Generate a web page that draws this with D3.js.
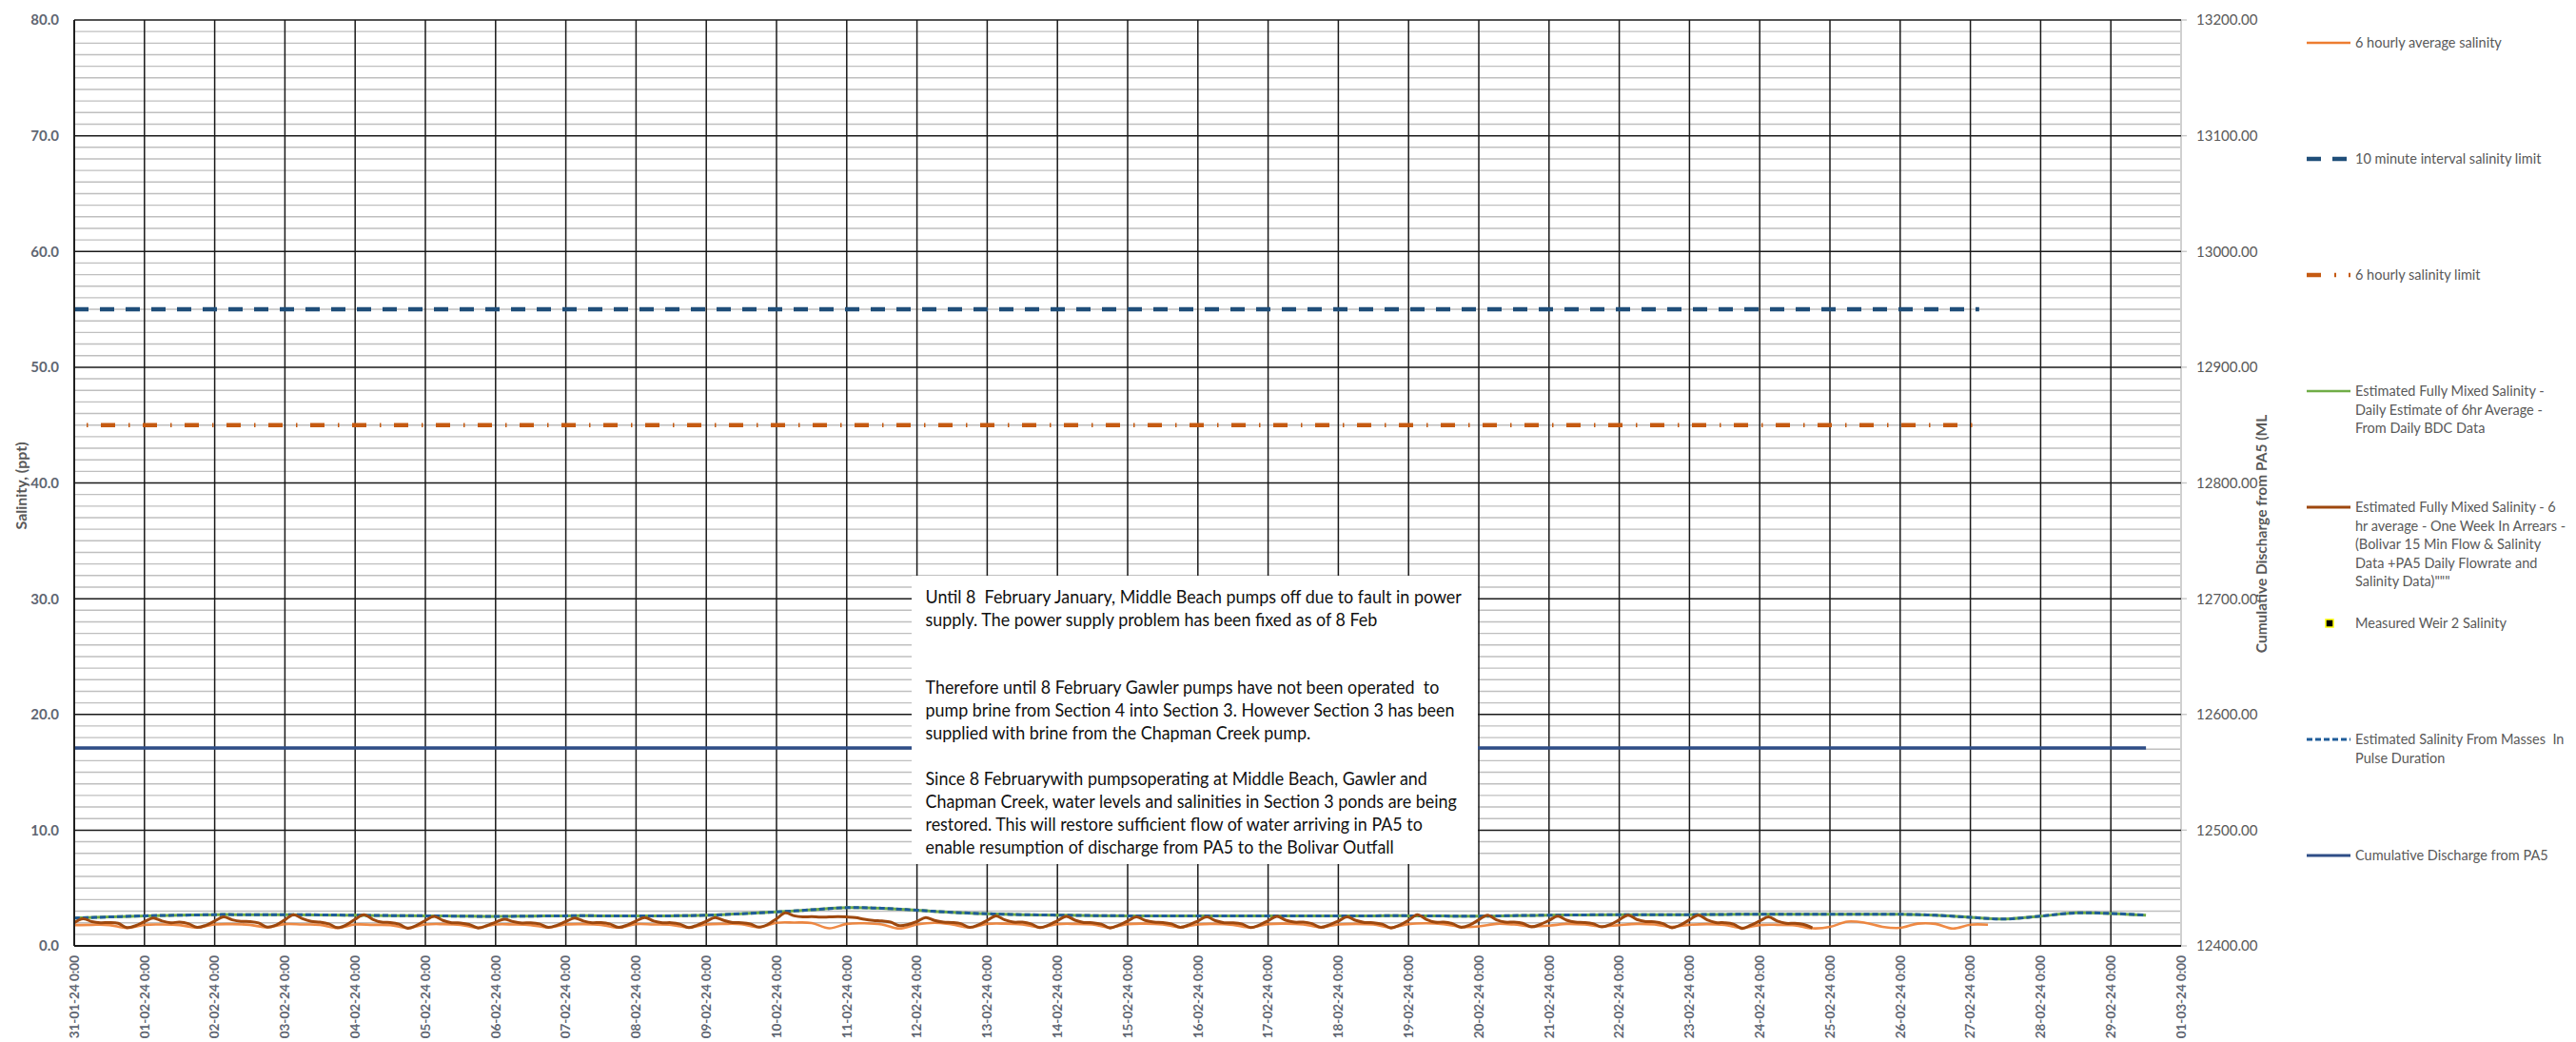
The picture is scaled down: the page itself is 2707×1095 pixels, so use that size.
<!DOCTYPE html>
<html>
<head>
<meta charset="utf-8">
<script src="https://cdn.jsdelivr.net/npm/d3@7"></script>
<style>
  html, body { margin: 0; padding: 0; background: #ffffff; }
  svg { display: block; }
</style>
</head>
<body>
<svg id="chart" width="2707" height="1095"></svg>
<script>
// ---------------------------------------------------------------------------
// Data
// ---------------------------------------------------------------------------
const periodStart = "2024-01-31T00:00Z";
const periodEnd = "2024-03-01T00:00Z";

// Left axis (salinity, ppt) and right axis (cumulative discharge, ML)
const salinityTicks = [0, 10, 20, 30, 40, 50, 60, 70, 80];
const dischargeTicks = [12400, 12500, 12600, 12700, 12800, 12900, 13000, 13100, 13200];

// Salinity limits
const limitDates = ["2024-01-31T00:00Z", "2024-02-27T03:00Z"];
const tenMinuteLimit = [55, 55];
const sixHourLimit = [45, 45];

// Cumulative discharge from PA5 (ML)
const dischargeDates = ["2024-01-31T00:00Z", "2024-02-29T12:00Z"];
const cumulativeDischarge = [12571, 12571];

// 6 hourly average salinity, every 6 h from 31-01 00:00 (one row per day)
const sixHourlyAvgSalinity = [
  1.80, 1.82, 1.80, 1.55,
  1.82, 1.85, 1.80, 1.58,
  1.85, 1.88, 1.82, 1.60,
  1.88, 1.85, 1.82, 1.55,
  1.85, 1.82, 1.80, 1.55,
  1.85, 1.88, 1.82, 1.58,
  1.85, 1.85, 1.80, 1.60,
  1.85, 1.88, 1.82, 1.58,
  1.88, 1.85, 1.82, 1.60,
  1.85, 1.90, 1.88, 1.62,
  2.00, 2.02, 1.98, 1.52,
  1.90, 1.95, 1.85, 1.50,
  1.85, 2.00, 1.85, 1.60,
  1.90, 1.92, 1.85, 1.62,
  1.88, 1.90, 1.85, 1.60,
  1.88, 1.92, 1.85, 1.62,
  1.85, 1.90, 1.82, 1.60,
  1.88, 1.92, 1.85, 1.62,
  1.85, 1.90, 1.85, 1.60,
  1.88, 1.95, 1.88, 1.65,
  1.68, 1.90, 1.85, 1.70,
  1.75, 1.90, 1.85, 1.68,
  1.80, 1.90, 1.85, 1.65,
  1.82, 1.88, 1.82, 1.56,
  1.80, 1.82, 1.78, 1.52,
  1.64, 2.10, 2.00, 1.65,
  1.56, 1.92, 1.90, 1.50,
  1.83, 1.83
];

// Estimated fully mixed salinity, 6 hr average one week in arrears,
// every 3 h from 31-01 00:00 (one row per day)
const fullyMixedArrears = [
  2.00, 2.35, 2.10, 2.00, 2.02, 1.95, 1.58, 1.75,
  2.10, 2.40, 2.15, 2.00, 2.05, 1.92, 1.60, 1.78,
  2.15, 2.50, 2.25, 2.12, 2.10, 1.98, 1.62, 1.80,
  2.25, 2.70, 2.35, 2.12, 2.05, 1.90, 1.58, 1.82,
  2.30, 2.70, 2.30, 2.05, 2.02, 1.88, 1.52, 1.78,
  2.20, 2.55, 2.20, 2.00, 1.98, 1.85, 1.55, 1.75,
  2.05, 2.30, 2.10, 1.98, 2.00, 1.90, 1.60, 1.78,
  2.10, 2.40, 2.15, 2.00, 2.02, 1.90, 1.60, 1.80,
  2.15, 2.45, 2.15, 2.00, 2.00, 1.88, 1.58, 1.80,
  2.12, 2.45, 2.20, 2.02, 2.00, 1.90, 1.62, 1.85,
  2.35, 2.85, 2.60, 2.50, 2.52, 2.48, 2.50, 2.52,
  2.50, 2.45, 2.30, 2.20, 2.15, 2.05, 1.75, 1.85,
  2.10, 2.45, 2.20, 2.05, 2.02, 1.92, 1.60, 1.82,
  2.20, 2.60, 2.25, 2.05, 2.05, 1.90, 1.58, 1.80,
  2.18, 2.55, 2.22, 2.02, 2.00, 1.88, 1.55, 1.80,
  2.15, 2.50, 2.20, 2.05, 2.02, 1.90, 1.60, 1.82,
  2.15, 2.50, 2.18, 2.00, 2.00, 1.90, 1.58, 1.80,
  2.18, 2.55, 2.22, 2.05, 2.05, 1.92, 1.60, 1.82,
  2.15, 2.50, 2.20, 2.02, 2.00, 1.88, 1.55, 1.80,
  2.22, 2.70, 2.30, 2.05, 2.05, 1.92, 1.60, 1.82,
  2.25, 2.66, 2.25, 2.05, 2.05, 1.95, 1.64, 1.85,
  2.20, 2.57, 2.22, 2.05, 2.02, 1.92, 1.64, 1.85,
  2.25, 2.66, 2.28, 2.10, 2.08, 1.92, 1.56, 1.82,
  2.25, 2.66, 2.25, 2.02, 2.00, 1.88, 1.50, 1.80,
  2.15, 2.50, 2.15, 1.95, 1.95, 1.85, 1.56
];

// Estimated fully mixed salinity, daily estimate of 6 hr average, every 12 h
const fullyMixedDaily = [
  2.40, 2.50,  2.60, 2.65,  2.70, 2.70,  2.70, 2.68,  2.65, 2.62,
  2.60, 2.57,  2.55, 2.57,  2.60, 2.60,  2.60, 2.60,  2.65, 2.78,
  2.93, 3.12,  3.30, 3.25,  3.08, 2.90,  2.78, 2.70,  2.66, 2.62,
  2.60, 2.60,  2.60, 2.60,  2.60, 2.60,  2.60, 2.60,  2.60, 2.58,
  2.57, 2.62,  2.65, 2.68,  2.70, 2.70,  2.70, 2.72,  2.74, 2.74,
  2.74, 2.74,  2.73, 2.65,  2.47, 2.32,  2.57, 2.85,  2.80, 2.65
];

// Estimated salinity from masses in pulse duration, every 12 h
const massPulseSalinity = [
  2.40, 2.50,  2.60, 2.65,  2.70, 2.70,  2.70, 2.68,  2.65, 2.62,
  2.60, 2.57,  2.55, 2.57,  2.60, 2.60,  2.60, 2.60,  2.65, 2.78,
  2.93, 3.12,  3.30, 3.25,  3.08, 2.90,  2.78, 2.70,  2.66, 2.62,
  2.60, 2.60,  2.60, 2.60,  2.60, 2.60,  2.60, 2.60,  2.60, 2.58,
  2.57, 2.62,  2.65, 2.68,  2.70, 2.70,  2.70, 2.72,  2.74, 2.74,
  2.74, 2.74,  2.73, 2.65,  2.47, 2.32,  2.57, 2.85,  2.80, 2.65
];

// Measured Weir 2 salinity (no samples in this period)
const weir2Salinity = [];

const legendLabels = [
  ["6 hourly average salinity"],
  ["10 minute interval salinity limit"],
  ["6 hourly salinity limit"],
  ["Estimated Fully Mixed Salinity -", "Daily Estimate of 6hr Average -", "From Daily BDC Data"],
  ["Estimated Fully Mixed Salinity - 6", "hr average - One Week In Arrears -", "(Bolivar 15 Min Flow & Salinity", "Data +PA5 Daily Flowrate and", "Salinity Data)\"\"\""],
  ["Measured Weir 2 Salinity"],
  ["Estimated Salinity From Masses  In", "Pulse Duration"],
  ["Cumulative Discharge from PA5"]
];

const noteLines = [
  "Until 8  February January, Middle Beach pumps off due to fault in power",
  "supply. The power supply problem has been fixed as of 8 Feb",
  "",
  "",
  "Therefore until 8 February Gawler pumps have not been operated  to",
  "pump brine from Section 4 into Section 3. However Section 3 has been",
  "supplied with brine from the Chapman Creek pump.",
  "",
  "Since 8 Februarywith pumpsoperating at Middle Beach, Gawler and",
  "Chapman Creek, water levels and salinities in Section 3 ponds are being",
  "restored. This will restore sufficient flow of water arriving in PA5 to",
  "enable resumption of discharge from PA5 to the Bolivar Outfall"
];

// ---------------------------------------------------------------------------
// Helpers
// ---------------------------------------------------------------------------
const HOUR = 3600 * 1000;
const t0 = new Date(periodStart).getTime();
const regular = (values, stepHours) =>
  values.map((v, i) => ({ t: new Date(t0 + i * stepHours * HOUR), v }));
const paired = (dates, values) => values.map((v, i) => ({ t: new Date(dates[i]), v }));

// ---------------------------------------------------------------------------
// Scales
// ---------------------------------------------------------------------------
const plot = { left: 78, right: 2292, top: 21, bottom: 994 };
const x = d3.scaleUtc()
  .domain([new Date(periodStart), new Date(periodEnd)])
  .range([plot.left, plot.right]);
const y = d3.scaleLinear().domain([0, 80]).range([plot.bottom, plot.top]);
const y2 = d3.scaleLinear().domain([12400, 13200]).range([plot.bottom, plot.top]);

const svg = d3.select("#chart");
const FONT = "Lato, 'Open Sans', sans-serif";
const AXIS_TEXT = "#595959";

// ---------------------------------------------------------------------------
// Grid
// ---------------------------------------------------------------------------
const grid = svg.append("g");
const minorVals = d3.range(0, 81).filter(v => v % 10 !== 0);
grid.selectAll("line.minor").data(minorVals).join("line")
  .attr("x1", plot.left).attr("x2", plot.right)
  .attr("y1", d => y(d)).attr("y2", d => y(d))
  .attr("stroke", "#bfbfbf").attr("stroke-width", 1.4);

// right plot border + outer ticks for the discharge axis
grid.append("line")
  .attr("x1", plot.right).attr("x2", plot.right)
  .attr("y1", plot.top).attr("y2", plot.bottom)
  .attr("stroke", "#d0d0d0").attr("stroke-width", 2);
grid.selectAll("line.rtick").data(dischargeTicks).join("line")
  .attr("x1", plot.right).attr("x2", plot.right + 6)
  .attr("y1", d => y2(d)).attr("y2", d => y2(d))
  .attr("stroke", "#c8c8c8").attr("stroke-width", 1.4);

grid.selectAll("line.major").data(salinityTicks).join("line")
  .attr("x1", plot.left).attr("x2", plot.right)
  .attr("y1", d => y(d)).attr("y2", d => y(d))
  .attr("stroke", "#1a1a1a").attr("stroke-width", 1.5);

const dayTicks = x.ticks(d3.utcDay.every(1));
grid.selectAll("line.day").data(dayTicks.filter(d => +d !== +x.domain()[1])).join("line")
  .attr("x1", d => x(d)).attr("x2", d => x(d))
  .attr("y1", plot.top).attr("y2", plot.bottom)
  .attr("stroke", "#1a1a1a").attr("stroke-width", 1.5);

// ---------------------------------------------------------------------------
// Series
// ---------------------------------------------------------------------------
const lineL = d3.line().x(d => x(d.t)).y(d => y(d.v));
const lineR = d3.line().x(d => x(d.t)).y(d => y2(d.v));
const smoothL = d3.line().x(d => x(d.t)).y(d => y(d.v)).curve(d3.curveCatmullRom.alpha(0.5));

const series = svg.append("g").attr("fill", "none");

series.append("path").datum(paired(limitDates, tenMinuteLimit))
  .attr("d", lineL).attr("stroke", "#1f4e79").attr("stroke-width", 4.5)
  .attr("stroke-dasharray", "15,12");

series.append("path").datum(paired(limitDates, sixHourLimit))
  .attr("d", lineL).attr("stroke", "#c55a11").attr("stroke-width", 4.5)
  .attr("stroke-dasharray", "15,14,1.5,13.5").attr("stroke-dashoffset", 16);

series.append("path").datum(paired(dischargeDates, cumulativeDischarge))
  .attr("d", lineR).attr("stroke", "#2f4e87").attr("stroke-width", 3.5);

series.append("path").datum(regular(fullyMixedDaily, 12))
  .attr("d", smoothL).attr("stroke", "#70ad47").attr("stroke-width", 3);

series.append("path").datum(regular(massPulseSalinity, 12))
  .attr("d", smoothL).attr("stroke", "#1f5c99").attr("stroke-width", 3)
  .attr("stroke-dasharray", "6,3");

series.append("path").datum(regular(sixHourlyAvgSalinity, 6))
  .attr("d", smoothL).attr("stroke", "#ed7d31").attr("stroke-width", 2.6)
  .attr("stroke-opacity", 0.9);

series.append("path").datum(regular(fullyMixedArrears, 3))
  .attr("d", smoothL).attr("stroke", "#9e480e").attr("stroke-width", 3);

series.selectAll("rect.weir").data(weir2Salinity).join("rect")
  .attr("x", d => x(new Date(d.t)) - 4).attr("y", d => y(d.v) - 4)
  .attr("width", 8).attr("height", 8)
  .attr("fill", "#000").attr("stroke", "#ffff00").attr("stroke-width", 1.5);

// ---------------------------------------------------------------------------
// Axes (left line and bottom line)
// ---------------------------------------------------------------------------
svg.append("line")
  .attr("x1", plot.left).attr("x2", plot.left)
  .attr("y1", plot.top).attr("y2", plot.bottom)
  .attr("stroke", "#1a1a1a").attr("stroke-width", 1.8);
svg.append("line")
  .attr("x1", plot.left).attr("x2", plot.right)
  .attr("y1", plot.bottom).attr("y2", plot.bottom)
  .attr("stroke", "#1a1a1a").attr("stroke-width", 1.8);

// left tick labels
svg.append("g").selectAll("text").data(salinityTicks).join("text")
  .attr("x", plot.left - 16).attr("y", d => y(d)).attr("dy", "0.36em")
  .attr("text-anchor", "end")
  .attr("font-family", FONT).attr("font-size", 15).attr("font-weight", 700)
  .attr("fill", "#5f6672")
  .text(d => d3.format(".1f")(d));

// right tick labels
svg.append("g").selectAll("text").data(dischargeTicks).join("text")
  .attr("x", plot.right + 16).attr("y", d => y2(d)).attr("dy", "0.36em")
  .attr("text-anchor", "start")
  .attr("font-family", FONT).attr("font-size", 15).attr("font-weight", 400)
  .attr("fill", AXIS_TEXT)
  .text(d => d3.format(".2f")(d));

// bottom date labels (rotated)
const fmtDate = d3.utcFormat("%d-%m-%y %-H:%M");
svg.append("g").selectAll("text").data(dayTicks).join("text")
  .attr("transform", d => `translate(${x(d)},${plot.bottom + 10}) rotate(-90)`)
  .attr("dy", "0.36em")
  .attr("text-anchor", "end")
  .attr("font-family", FONT).attr("font-size", 13.5).attr("font-weight", 700)
  .attr("fill", "#5f6672")
  .text(d => fmtDate(d));

// axis titles
svg.append("text")
  .attr("transform", `translate(22,${(plot.top + plot.bottom) / 2 + 3}) rotate(-90)`)
  .attr("dy", "0.36em").attr("text-anchor", "middle")
  .attr("font-family", FONT).attr("font-size", 16).attr("font-weight", 700)
  .attr("fill", AXIS_TEXT)
  .text("Salinity, (ppt)");

svg.append("text")
  .attr("transform", "translate(2376,561) rotate(-90)")
  .attr("dy", "0.36em").attr("text-anchor", "middle")
  .attr("font-family", FONT).attr("font-size", 15.5).attr("font-weight", 700)
  .attr("fill", AXIS_TEXT)
  .text("Cumulative  Discharge  from PA5 (ML");

// ---------------------------------------------------------------------------
// Note box
// ---------------------------------------------------------------------------
const note = svg.append("g");
note.append("rect")
  .attr("x", 958).attr("y", 605).attr("width", 595).attr("height", 303)
  .attr("fill", "#ffffff");
const noteText = note.append("g");
noteText.selectAll("text").data(noteLines).join("text")
  .attr("x", 0).attr("y", (d, i) => i * 23.9).attr("dy", "0.36em")
  .attr("font-family", FONT).attr("font-size", 19)
  .attr("fill", "#111111")
  .attr("xml:space", "preserve")
  .text(d => d);
// condense the paragraph so its longest line fills the box width
const widest = d3.max(noteText.selectAll("text").nodes(), n => n.getComputedTextLength());
const squeeze = 564 / widest;
noteText.attr("transform", `translate(972.5,627) scale(${squeeze},1)`);

// ---------------------------------------------------------------------------
// Legend
// ---------------------------------------------------------------------------
const legendStyles = [
  { kind: "line", color: "#ed7d31", width: 2.6 },
  { kind: "line", color: "#1f4e79", width: 4.5, dash: "15,12" },
  { kind: "line", color: "#c55a11", width: 4.5, dash: "15,14,2,13" },
  { kind: "line", color: "#70ad47", width: 2.6 },
  { kind: "line", color: "#9e480e", width: 3 },
  { kind: "marker" },
  { kind: "line", color: "#1f5c99", width: 2.8, dash: "6,3" },
  { kind: "line", color: "#2f4e87", width: 3 }
];
const legend = svg.append("g").attr("transform", "translate(2424,45)");
legendLabels.forEach((lines, i) => {
  const g = legend.append("g").attr("transform", `translate(0,${i * 122})`);
  const st = legendStyles[i];
  if (st.kind === "line") {
    g.append("line").attr("x1", 0).attr("x2", 46).attr("y1", 0).attr("y2", 0)
      .attr("stroke", st.color).attr("stroke-width", st.width)
      .attr("stroke-dasharray", st.dash || null);
  } else {
    g.append("rect").attr("x", 20).attr("y", -4).attr("width", 8).attr("height", 8)
      .attr("fill", "#000").attr("stroke", "#ffff00").attr("stroke-width", 1.5);
  }
  g.selectAll("text").data(lines).join("text")
    .attr("x", 51).attr("y", (d, j) => j * 19.5).attr("dy", "0.36em")
    .attr("font-family", FONT).attr("font-size", 14.5)
    .attr("fill", AXIS_TEXT)
    .attr("xml:space", "preserve")
    .text(d => d);
});
</script>
</body>
</html>
